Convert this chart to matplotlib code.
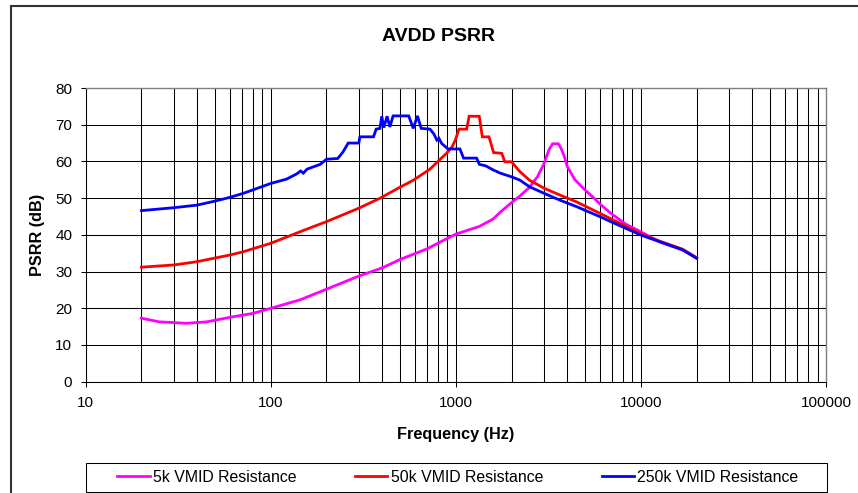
import matplotlib
matplotlib.use('Agg')
import matplotlib.pyplot as plt
from matplotlib.patches import Rectangle
from matplotlib.ticker import FixedLocator, NullFormatter

plt.rcParams['font.family'] = ['Liberation Sans', 'DejaVu Sans']

title = "AVDD PSRR"
x_label = "Frequency (Hz)"
y_label = "PSRR (dB)"
series_names = ["5k VMID Resistance", "50k VMID Resistance", "250k VMID Resistance"]
series_colors = ["#FF00FF", "#FF0000", "#0000FF"]

x_ticks = [10, 100, 1000, 10000, 100000]
x_tick_labels = ["10", "100", "1000", "10000", "100000"]
y_ticks = [0, 10, 20, 30, 40, 50, 60, 70, 80]

freq_5k = [20, 25, 30, 35, 45, 62.6, 80, 100, 144, 200, 300, 400, 500, 700, 850,
           1000, 1340, 1590, 1740, 2000, 2220, 2470, 2760, 3000, 3180, 3330, 3580,
           3700, 3860, 4000, 4400, 4970, 5500, 6040, 6900, 8300, 9920, 12600, 16800, 20000]
psrr_5k = [17.3, 16.3, 16.1, 15.9, 16.3, 17.7, 18.6, 20.0, 22.3, 25.2, 28.8, 31.0, 33.3, 36.2, 38.4,
           40.2, 42.3, 44.3, 46.2, 48.8, 50.6, 52.7, 55.8, 59.5, 63.1, 64.8, 64.8,
           63.6, 61.3, 58.6, 55.0, 52.3, 50.3, 48.3, 45.8, 42.9, 40.9, 38.1, 35.9, 33.7]

freq_50k = [20, 30, 40, 60, 71, 100, 150, 200, 300, 390, 500, 590, 725, 800, 890, 955, 993,
            1040, 1144, 1180, 1338, 1390, 1510, 1600, 1770, 1840, 2000, 2100, 2220, 2500,
            3000, 3630, 4480, 6040, 6800, 8400, 9920, 12600, 16800, 20000]
psrr_50k = [31.2, 31.8, 32.7, 34.5, 35.4, 37.7, 41.2, 43.6, 47.3, 50.0, 53.0, 54.9, 57.9, 60.0, 62.2, 64.0, 65.8,
            68.8, 68.8, 72.3, 72.3, 66.7, 66.7, 62.4, 62.2, 59.9, 59.9, 58.6, 57.2, 54.9,
            52.7, 50.9, 49.0, 45.8, 44.5, 42.2, 40.4, 38.3, 36.1, 33.8]

freq_250k = [20, 30, 40, 50, 60, 71, 100, 122, 138, 145, 150, 157, 185, 200, 230, 245, 262, 299,
             303, 359, 371, 389, 398, 408, 425, 440, 458, 556, 589, 620, 650, 725, 760, 790,
             810, 838, 906, 1052, 1100, 1295, 1340, 1450, 1590, 1740, 2000, 2220, 2500, 3000,
             3630, 4480, 6040, 6800, 9920, 16800, 20000]
psrr_250k = [46.6, 47.4, 48.1, 49.2, 50.2, 51.3, 54.0, 55.2, 56.6, 57.4, 56.8, 57.9, 59.2, 60.6, 60.8, 62.5, 65.0, 65.0,
             66.7, 66.7, 68.8, 69.0, 72.3, 69.2, 72.3, 69.4, 72.4, 72.4, 69.0, 72.4, 69.0, 68.8, 67.5, 65.8,
             66.3, 64.9, 63.4, 63.4, 60.9, 60.9, 59.2, 58.8, 57.7, 56.8, 55.8, 54.9, 53.1, 51.3,
             49.5, 47.7, 44.9, 43.7, 40.0, 35.9, 33.6]

W, H = 858, 493
fig = plt.figure(figsize=(W / 100, H / 100), dpi=100)

# plot area (pixel geometry of the reference)
L, R, T, B = 85.7, 826.0, 88.0, 381.7
ax = fig.add_axes([L / W, 1 - B / H, (R - L) / W, (B - T) / H])
ax.set_xscale('log')
ax.set_xlim(10, 100000)
ax.set_ylim(0, 80)

ax.xaxis.set_major_locator(FixedLocator(x_ticks))
ax.set_xticklabels(x_tick_labels)
minor = [m * 10 ** k for k in range(1, 5) for m in range(2, 10)]
ax.xaxis.set_minor_locator(FixedLocator(minor))
ax.xaxis.set_minor_formatter(NullFormatter())
ax.set_yticks(y_ticks)

ax.set_axisbelow(True)
ax.grid(True, which='both', axis='x', color='black', lw=0.75)
ax.grid(True, which='major', axis='y', color='black', lw=0.75)
ax.tick_params(which='minor', length=0)
ax.tick_params(which='major', direction='out', length=3.6, width=0.75,
               labelsize=11, color='black', labelcolor='black')
ax.tick_params(axis='x', pad=6.5)
ax.tick_params(axis='y', pad=6)

for sp in ['left', 'bottom']:
    ax.spines[sp].set_color('black')
    ax.spines[sp].set_linewidth(0.75)
for sp in ['top', 'right']:
    ax.spines[sp].set_color('#808080')
    ax.spines[sp].set_linewidth(1.0)

handles = []
for f, v, c, n in [(freq_5k, psrr_5k, series_colors[0], series_names[0]),
                   (freq_50k, psrr_50k, series_colors[1], series_names[1]),
                   (freq_250k, psrr_250k, series_colors[2], series_names[2])]:
    ln, = ax.plot(f, v, color=c, lw=2.0, label=n, solid_joinstyle='miter', zorder=3)
    handles.append(ln)

# Texts
fig.text(438.8 / W, 1 - 41 / H, title, ha='center', va='baseline',
         fontsize=14, fontweight='bold')
fig.text(455.8 / W, 1 - 439 / H, x_label, ha='center', va='baseline',
         fontsize=11.7, fontweight='bold')
fig.text(37.5 / W, 1 - (T + B) / 2 / H, y_label, ha='center', va='center',
         rotation=90, fontsize=11.7, fontweight='bold')

# Legend
fig.legend(handles, series_names, loc='center', bbox_to_anchor=(458 / W, 1 - 477.3 / H),
           ncol=3, frameon=False, fontsize=11.4, columnspacing=3.73,
           handlelength=2.03, handletextpad=0.2, borderpad=0.0)
fig.add_artist(Rectangle((85.7 / W, 1 - 491.7 / H), 741 / W, 28.7 / H,
                         transform=fig.transFigure, fill=False, ec='black', lw=0.75))

# outer chart frame (cut off on right and bottom)
fig.add_artist(Rectangle((11 / W, -0.1), 1.2, 1 - 6 / H + 0.1,
                         transform=fig.transFigure, fill=False, ec='#333333', lw=1.5))

fig.savefig('out.png', dpi=100)
